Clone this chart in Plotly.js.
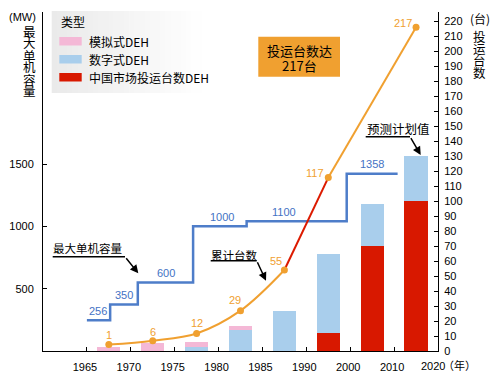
<!DOCTYPE html>
<html><head><meta charset="utf-8">
<script src="https://cdn.plot.ly/plotly-3.0.1.min.js"></script>
<style>html,body{margin:0;padding:0;background:#fff}#chart{width:500px;height:381px}</style>
</head><body><div id="chart"></div>
<script>
// ---- data ----
const tickYears = [1965,1970,1975,1980,1985,1990,2000,2010,2020];
const periodMid = [1967.5,1972.5,1977.5,1982.5,1987.5,1995,2005,2015];
const chinaDEH   = [0,0,0,0,0,12,70,100];
const digitalDEH = [0,0,2.7,14,26.5,52.5,28,30];
const analogDEH  = [2.5,5.3,3.3,2.7,0,0,0,0];
const cumYears  = [1967.5,1972.5,1977.5,1982.5,1987.5,1995,2015];
const cumValues = [4.3,6.9,11.7,26.9,54,115.6,215.8];
const cumLabels = ['1','6','12','29','55','117','217'];
const capStepYears = [1965,1967.65,1970.8,1977.1,1983.2,1999.2,2010.8];
const capValues = [247,373,549,1000,1042,1422];
const capLabels = ['256','350','600','1000','1100','1358'];
const capLabelYears = [1966.25,1969.2,1974.05,1980.4,1987.5,2004.9];
const leftTicks = [500,1000,1500];
const rightTicks = [];
for (let v = 0; v <= 220; v += 10) rightTicks.push(v);
const legendNames = ['模拟式DEH','数字式DEH','中国市场投运台数DEH'];
const leftTitle = '最大单机容量', rightTitle = '投运台数';

// ---- styles ----
const C_RED = '#D81800', C_BLUE = '#A9CEEC', C_PINK = '#F4B8D6';
const C_STEP = '#4E7DC9', C_STEPTXT = '#4472C4', C_ORANGE = '#F0A030';
const legendColors = [C_PINK, C_BLUE, C_RED];
const FONT = 'Liberation Sans, Arial, Noto Sans CJK SC, sans-serif';
const CJK = 'Noto Sans CJK SC, Liberation Sans, sans-serif';

// non-uniform category axis: 5-year steps up to 1990, 10-year after
function idx(y){ return y <= 1990 ? 1 + (y - 1965) / 5 : 6 + (y - 1990) / 10; }

const L = 43, T = 12, W = 395, H = 339;
const px = x => (x - L) / W;
const py = y => (T + H - y) / H;

const barW = 0.53;
const traces = [
  {type:'bar', x: periodMid.map(idx), y: chinaDEH, yaxis:'y2', marker:{color:C_RED}, width:barW, hoverinfo:'skip'},
  {type:'bar', x: periodMid.map(idx), y: digitalDEH, yaxis:'y2', marker:{color:C_BLUE}, width:barW, hoverinfo:'skip'},
  {type:'bar', x: periodMid.map(idx), y: analogDEH, yaxis:'y2', marker:{color:C_PINK}, width:barW, hoverinfo:'skip'},
  {type:'scatter', mode:'lines', x: capStepYears.map(idx), y: capValues.concat([capValues[capValues.length-1]]),
   line:{shape:'hv', color:C_STEP, width:2.5}, yaxis:'y'},
  {type:'scatter', mode:'lines', x: cumYears.slice(0,5).map(idx), y: cumValues.slice(0,5), yaxis:'y2',
   line:{shape:'spline', color:C_ORANGE, width:2}},
  {type:'scatter', mode:'lines', x: cumYears.slice(4,6).map(idx), y: cumValues.slice(4,6), yaxis:'y2',
   line:{color:'#DC1A00', width:2}},
  {type:'scatter', mode:'lines', x: cumYears.slice(5,7).map(idx), y: cumValues.slice(5,7), yaxis:'y2',
   line:{color:C_ORANGE, width:2}},
  {type:'scatter', mode:'markers', x: cumYears.map(idx), y: cumValues, yaxis:'y2',
   marker:{color:C_ORANGE, size:7}}
];

const annotations = [];
const cumShift = [[0,10],[0,9],[0,10],[-6,10.5],[-8.5,9],[-13,4.5],[-13,4]];
cumLabels.forEach((t,i) => annotations.push({xref:'x', yref:'y2', x: idx(cumYears[i]), y: cumValues[i],
  text:t, showarrow:false, xshift:cumShift[i][0], yshift:cumShift[i][1], font:{family:FONT, size:11, color:C_ORANGE}}));
capLabels.forEach((t,i) => annotations.push({xref:'x', yref:'y', x: idx(capLabelYears[i]), y: capValues[i],
  text:t, showarrow:false, yshift:9.5, font:{family:FONT, size:11, color:C_STEPTXT}}));

function txt(x, y, t, size, extra){
  annotations.push(Object.assign({xref:'paper', yref:'paper', x:px(x), y:py(y), text:t, showarrow:false,
    xanchor:'center', yanchor:'middle', font:{family:CJK, size:size, color:'#000'}}, extra||{}));
}
// axis titles (vertical, one character per line)
const VFS = 12.5, VSTEP = 12;
txt(22.5, 17, '(MW)', 11, {font:{family:FONT, size:11, color:'#000'}});
leftTitle.split('').forEach((c,i) => txt(29.5, 31 + i*VSTEP, c, VFS));
txt(480, 18, '(台)', 12);
rightTitle.split('').forEach((c,i) => txt(479, 36 + i*VSTEP, c, VFS));
// last x tick label drawn together with the unit
txt(432.5, 366, '2020', 11, {font:{family:FONT, size:11, color:'#000'}});
txt(459, 365, '（年）', 11);
// orange box
txt(299.5, 51, '投运台数达', 13);
txt(299.5, 65.5, '217台', 13);
// callouts
txt(87.2, 248.3, '最大单机容量', 11.5);
txt(234, 255, '累计台数', 11.5);
txt(398.7, 128.3, '预测计划值', 12.5);
function arrow(tx, ty, hx, hy){
  annotations.push({xref:'paper', yref:'paper', x:px(hx), y:py(hy), ax:tx-hx, ay:ty-hy, text:'',
    showarrow:true, arrowhead:2, arrowsize:1.1, arrowwidth:1.5, arrowcolor:'#000'});
}
arrow(125, 256.7, 138.3, 273.3);
arrow(256.7, 260.7, 266, 280.7);
arrow(410, 136.7, 420.7, 155);
// legend text
txt(59, 22, '类型', 12, {xanchor:'left'});
legendNames.forEach((n,i) => txt(87, 41.5 + i*18, n, 12, {xanchor:'left'}));

const shapes = [];
// legend background gradient
const LX0 = 51.7, LX1 = 206.7, LY0 = 11, LY1 = 93, N = 30;
for (let i = 0; i < N; i++) {
  const g = Math.round(234 + (255-234) * (i/(N-1)));
  shapes.push({type:'rect', xref:'paper', yref:'paper', x0:px(LX0 + (LX1-LX0)*i/N), x1:px(LX0 + (LX1-LX0)*(i+1)/N + 0.5),
    y0:py(LY1), y1:py(LY0), fillcolor:`rgb(${g},${g},${g})`, line:{width:0}, layer:'above'});
}
legendColors.forEach((c,i) => shapes.push({type:'rect', xref:'paper', yref:'paper', x0:px(59.3), x1:px(81.7),
  y0:py(45.5 + i*18), y1:py(37 + i*18), fillcolor:c, line:{width:0}, layer:'above'}));
// orange box
shapes.push({type:'rect', xref:'paper', yref:'paper', x0:px(258.3), x1:px(340), y0:py(76.7), y1:py(36.7),
  fillcolor:C_ORANGE, line:{width:0}, layer:'above'});
// underlines
function uline(x0, x1, y){ shapes.push({type:'line', xref:'paper', yref:'paper', x0:px(x0), x1:px(x1), y0:py(y), y1:py(y),
  line:{color:'#000', width:1.6}, layer:'above'}); }
uline(52.7, 125, 256.7);
uline(210.7, 256.7, 260.7);
uline(365.7, 410, 136.7);

const axisCommon = {showgrid:false, zeroline:false, showline:true, linecolor:'#000', linewidth:1,
  ticks:'inside', ticklen:4, tickcolor:'#000', tickwidth:1, tickfont:{family:FONT, size:11, color:'#000'}, fixedrange:true};

const layout = {
  width:500, height:381, margin:{l:L, r:500-L-W, t:T, b:381-T-H, pad:0},
  paper_bgcolor:'#fff', plot_bgcolor:'#fff', showlegend:false, barmode:'stack',
  xaxis: Object.assign({}, axisCommon, {range:[0,9], tickmode:'array', tickvals: tickYears.map(idx),
    ticktext: tickYears.map((y,i) => i === tickYears.length-1 ? '' : String(y)), ticklabelstandoff:6, ticklabelshift:-2}),
  yaxis: Object.assign({}, axisCommon, {range:[0,2720], tickmode:'array', tickvals:leftTicks, ticklabelstandoff:6}),
  yaxis2: Object.assign({}, axisCommon, {range:[0,226], overlaying:'y', side:'right', anchor:'x',
    tickmode:'array', tickvals:rightTicks, ticklabelstandoff:3}),
  annotations, shapes
};
Plotly.newPlot('chart', traces, layout, {staticPlot:true, displayModeBar:false});
</script></body></html>
